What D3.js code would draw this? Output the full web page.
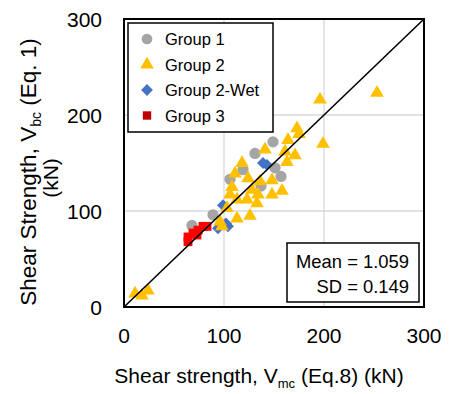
<!DOCTYPE html>
<html>
<head>
<meta charset="utf-8">
<script src="https://cdn.jsdelivr.net/npm/d3@7"></script>
<style>
  body { margin: 0; background: #fff; }
  svg { font-family: "Liberation Sans", Arial, sans-serif; }
</style>
</head>
<body>
<svg id="chart" width="449" height="394"></svg>
<script>
// values: [Vmc (Eq.8), Vbc (Eq.1)] in kN
const group1 = [[149, 172], [131, 160], [106, 133], [157, 136], [137, 126], [151, 145], [119, 143], [89, 96], [68, 85]];
const group2Wet = [[139, 150], [143, 148], [99, 106], [94, 82], [104, 84], [102, 87]];
const group2 = [
  [253, 223], [196, 216], [199, 170], [173, 186], [175, 180], [164, 174], [141, 164], [161, 162],
  [171, 158], [163, 151], [118, 150], [111, 139], [124, 134], [148, 132], [136, 131], [108, 125],
  [106, 117], [128, 122], [134, 117], [148, 117], [158, 121], [113, 112], [123, 112], [133, 108],
  [103, 103], [113, 92], [126, 95], [98, 84], [96, 89], [11, 14], [24, 17], [18, 12]
];
const group3 = [[64, 73], [64, 68], [69, 77], [74, 80], [79, 84], [83, 84], [73, 75]];
const ticks = [0, 100, 200, 300];
const stats = ["Mean = 1.059", "SD = 0.149"];

const svg = d3.select("#chart");
const x = d3.scaleLinear().domain([0, 300]).range([124, 424]);
const y = d3.scaleLinear().domain([0, 300]).range([307, 19]);

// gridlines
svg.append("g").selectAll("line.gx").data([100, 200]).enter().append("line")
  .attr("x1", d => x(d)).attr("x2", d => x(d)).attr("y1", y(0)).attr("y2", y(300))
  .attr("stroke", "#d9d9d9").attr("stroke-width", 1.3);
svg.append("g").selectAll("line.gy").data([100, 200]).enter().append("line")
  .attr("x1", x(0)).attr("x2", x(300)).attr("y1", d => y(d)).attr("y2", d => y(d))
  .attr("stroke", "#d9d9d9").attr("stroke-width", 1.3);

// tick labels
svg.append("g").selectAll("text").data(ticks).enter().append("text")
  .attr("x", d => x(d)).attr("y", 343).attr("text-anchor", "middle")
  .attr("font-size", 21).attr("fill", "#000").text(d => d);
svg.append("g").selectAll("text").data(ticks).enter().append("text")
  .attr("x", 102).attr("y", d => y(d) + 7.5).attr("text-anchor", "end")
  .attr("font-size", 21).attr("fill", "#000").text(d => d);

// markers
const sym = (type, size) => d3.symbol().type(type).size(size)();
function drawPoints(data, path, fill, rot) {
  svg.append("g").selectAll("path").data(data).enter().append("path")
    .attr("d", path)
    .attr("transform", d => `translate(${x(d[0])},${y(d[1])})` + (rot ? ` rotate(${rot})` : ""))
    .attr("fill", fill);
}
drawPoints(group1, sym(d3.symbolCircle, 100), "#a5a5a5");
drawPoints(group2Wet, sym(d3.symbolSquare, 70), "#4472c4", 45);
drawPoints(group2, sym(d3.symbolTriangle, 80), "#ffc000");
drawPoints(group3, sym(d3.symbolSquare, 78), "#ff0000");

// 1:1 line
svg.append("line")
  .attr("x1", x(0)).attr("y1", y(0)).attr("x2", x(300)).attr("y2", y(300))
  .attr("stroke", "#000").attr("stroke-width", 1.6);

// plot border
svg.append("rect")
  .attr("x", x(0)).attr("y", y(300)).attr("width", x(300) - x(0)).attr("height", y(0) - y(300))
  .attr("fill", "none").attr("stroke", "#000").attr("stroke-width", 2);

// legend
const legendItems = [
  { name: "Group 1", path: sym(d3.symbolCircle, 90), fill: "#a5a5a5", rot: 0 },
  { name: "Group 2", path: sym(d3.symbolTriangle, 80), fill: "#ffc000", rot: 0 },
  { name: "Group 2-Wet", path: sym(d3.symbolSquare, 70), fill: "#4472c4", rot: 45 },
  { name: "Group 3", path: sym(d3.symbolSquare, 70), fill: "#c00000", rot: 0 }
];
const legend = svg.append("g");
legend.append("rect").attr("x", 128).attr("y", 23).attr("width", 145).attr("height", 109)
  .attr("fill", "#fff").attr("stroke", "#000").attr("stroke-width", 1.5);
const li = legend.selectAll("g.item").data(legendItems).enter().append("g")
  .attr("transform", (d, i) => `translate(0,${39 + i * 25.5})`);
li.append("path").attr("d", d => d.path).attr("fill", d => d.fill)
  .attr("transform", d => `translate(147,0) rotate(${d.rot})`);
li.append("text").attr("x", 165).attr("y", 6).attr("font-size", 16.5).text(d => d.name);

// stats box
const sb = svg.append("g");
sb.append("rect").attr("x", 287).attr("y", 243).attr("width", 132).attr("height", 59)
  .attr("fill", "#fff").attr("stroke", "#000").attr("stroke-width", 1.5);
sb.selectAll("text").data(stats).enter().append("text")
  .attr("x", 409).attr("y", (d, i) => 268 + i * 25).attr("text-anchor", "end")
  .attr("font-size", 18.4).text(d => d);

// x title
const xt = svg.append("text").attr("x", 259).attr("y", 383).attr("text-anchor", "middle").attr("font-size", 21);
xt.append("tspan").text("Shear strength, V");
xt.append("tspan").attr("font-size", 13).attr("dy", 5).text("mc");
xt.append("tspan").attr("dy", -5).text(" (Eq.8) (kN)");

// y title
const yt = svg.append("g").attr("transform", "translate(0,172) rotate(-90)");
const y1 = yt.append("text").attr("x", 0).attr("y", 36).attr("text-anchor", "middle").attr("font-size", 22.5);
y1.append("tspan").text("Shear Strength, V");
y1.append("tspan").attr("font-size", 14).attr("dy", 5).text("bc");
y1.append("tspan").attr("dy", -5).text(" (Eq. 1)");
yt.append("text").attr("x", -6).attr("y", 58).attr("text-anchor", "middle").attr("font-size", 21).text("(kN)");
</script>
</body>
</html>
